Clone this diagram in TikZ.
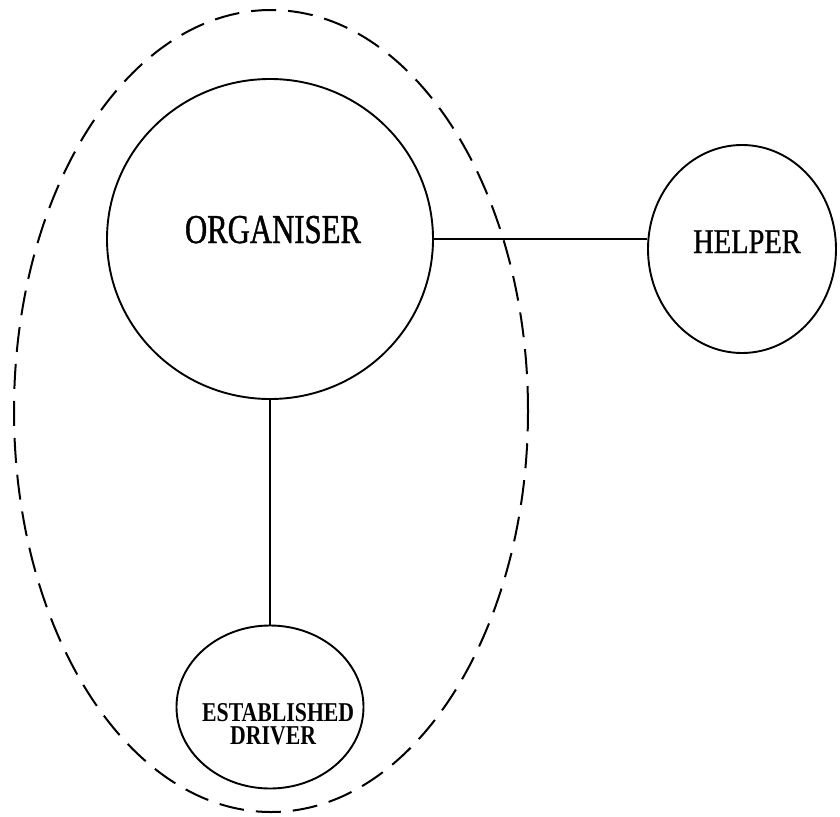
\documentclass[tikz,border=0pt]{standalone}
\usepackage{fontspec}
\setmainfont{Liberation Serif}
\newfontfamily\orgfont{Liberation Serif}[FakeStretch=0.75,FakeBold=1]
\newfontfamily\helpfont{Liberation Serif}[FakeStretch=0.82,FakeBold=1]
\newfontfamily\drvfont{Liberation Serif Bold}[FakeStretch=0.80]
\usetikzlibrary{shapes.geometric}
\begin{document}
\begin{tikzpicture}[x=1pt,y=-1pt,
  party/.style={draw, ellipse, line width=1.9pt, inner sep=0pt},
  crowd/.style={draw, ellipse, line width=2pt, inner sep=0pt,
    dash pattern=on 25pt off 12pt},
  tie/.style={line width=1.6pt},
  lbl/.style={anchor=base, inner sep=0pt}]
\useasboundingbox[fill=white] (0,0) rectangle (840,816);

% dashed boundary round the organiser and driver
\node[crowd, minimum width=514pt, minimum height=802pt] (grp) at (271,411) {};

% the three parties
\node[party, minimum width=326pt, minimum height=320pt] (org) at (270,239) {};
\node[party, minimum width=188pt, minimum height=208pt] (help) at (742,249) {};
\node[party, minimum width=187pt, minimum height=163pt] (drv) at (270,707) {};

% their names
\node[lbl, font=\orgfont\fontsize{41}{43}\selectfont] (orgtxt) at (273,243) {ORGANISER};
\node[lbl, font=\helpfont\fontsize{34.7}{36}\selectfont] (helptxt) at (747,253) {HELPER};
\node[anchor=north west, inner sep=0pt, align=left,
      font=\drvfont\fontsize{27.2}{23}\selectfont] (drvtxt) at (202,703)
      {ESTABLISHED\\\hspace*{28pt}DRIVER};

% links
\draw[tie] (org.east) -- (org.east -| help.west);
\draw[tie] (org.south) -- (drv.north);
\end{tikzpicture}
\end{document}
